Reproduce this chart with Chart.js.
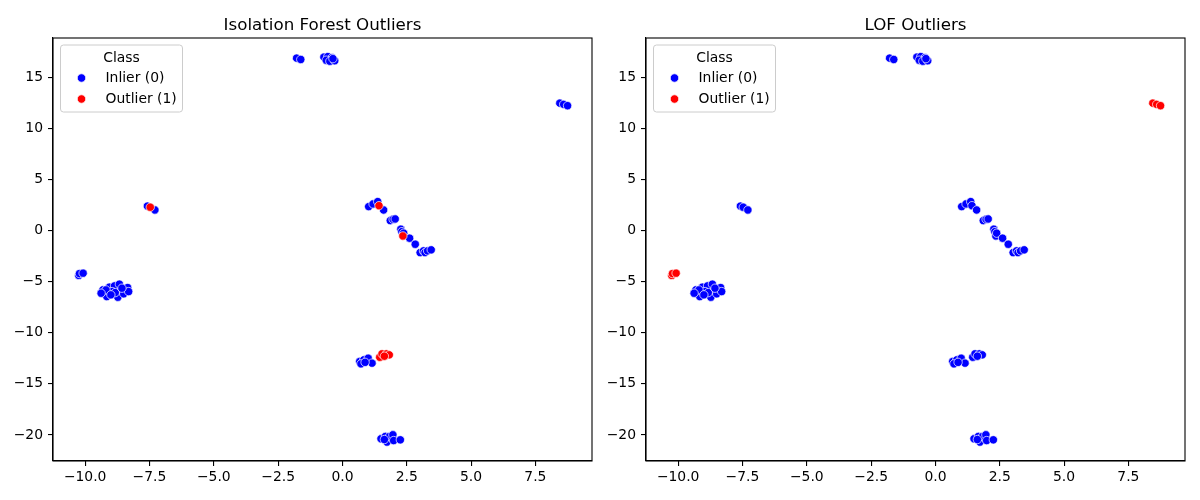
<!DOCTYPE html>
<html><head><meta charset="utf-8">
<script src="https://cdn.jsdelivr.net/npm/chart.js@4.4.0/dist/chart.umd.min.js"></script>
<style>
html,body{margin:0;padding:0;background:#fff;overflow:hidden}
#wrap{position:relative;width:1200px;height:500px;background:#fff}
.c{position:absolute;top:0;width:600px;height:500px}
</style></head><body>
<div id="wrap">
<canvas id="c1" class="c" style="left:0" width="600" height="500"></canvas>
<canvas id="c2" class="c" style="left:600px" width="600" height="500"></canvas>
</div>
<script>
// ---- data ----
const titles = ['Isolation Forest Outliers', 'LOF Outliers'];
const classNames = ['Inlier (0)', 'Outlier (1)'];
const legendTitle = 'Class';
const xTicks = [-10, -7.5, -5, -2.5, 0, 2.5, 5, 7.5];
const yTicks = [-20, -15, -10, -5, 0, 5, 10, 15];

const pointX = [
  -1.78, -1.62,
  -0.72, -0.57, -0.40, -0.63, -0.49, -0.30, -0.37,
  8.45, 8.60, 8.75,
  -7.58, -7.47, -7.29,
  -10.25, -10.22, -10.08,
  -9.31, -9.16, -9.06, -8.86, -8.67, -8.35, -8.73, -8.50, -8.31, -8.95, -8.83, -9.19, -9.38, -8.57, -9.00,
  1.02, 1.19, 1.37, 1.42, 1.60, 1.86, 1.97, 2.05, 2.27, 2.31, 2.35, 2.38, 2.61, 2.83, 3.02, 3.15, 3.21, 3.31, 3.45,
  0.67, 0.83, 1.00, 0.72, 1.15, 0.88,
  1.45, 1.54, 1.71, 1.82, 1.63,
  1.50, 1.67, 1.73, 1.83, 1.96, 1.99, 2.25, 1.63
];
const pointY = [
  16.85, 16.72,
  16.95, 17.00, 16.90, 16.65, 16.55, 16.60, 16.80,
  12.45, 12.33, 12.20,
  2.38, 2.27, 2.00,
  -4.40, -4.22, -4.18,
  -5.82, -6.47, -5.55, -5.43, -5.26, -5.59, -6.53, -6.20, -5.98, -5.98, -6.08, -5.82, -6.14, -5.65, -6.30,
  2.33, 2.59, 2.82, 2.42, 2.00, 0.96, 1.09, 1.12, 0.12, -0.12, -0.54, -0.27, -0.76, -1.35, -2.17, -2.00, -2.17, -2.00, -1.90,
  -12.82, -12.66, -12.50, -13.05, -12.98, -12.90,
  -12.40, -12.07, -12.07, -12.17, -12.30,
  -20.38, -20.15, -20.70, -20.15, -19.99, -20.55, -20.48, -20.45
];
const ifLabel = [
  0, 0,
  0, 0, 0, 0, 0, 0, 0,
  0, 0, 0,
  0, 1, 0,
  0, 0, 0,
  0, 0, 0, 0, 0, 0, 0, 0, 0, 0, 0, 0, 0, 0, 0,
  0, 0, 0, 1, 0, 0, 0, 0, 0, 0, 1, 0, 0, 0, 0, 0, 0, 0, 0,
  0, 0, 0, 0, 0, 0,
  1, 1, 1, 1, 1,
  0, 0, 0, 0, 0, 0, 0, 0
];
const lofLabel = [
  0, 0,
  0, 0, 0, 0, 0, 0, 0,
  1, 1, 1,
  0, 0, 0,
  1, 1, 1,
  0, 0, 0, 0, 0, 0, 0, 0, 0, 0, 0, 0, 0, 0, 0,
  0, 0, 0, 0, 0, 0, 0, 0, 0, 0, 0, 0, 0, 0, 0, 0, 0, 0, 0,
  0, 0, 0, 0, 0, 0,
  0, 0, 0, 0, 0,
  0, 0, 0, 0, 0, 0, 0, 0
];
const classColors = ['#0000ff', '#ff0000'];

// ---- rendering ----
const FONT = 'DejaVu Sans';
const fmt = (v, d) => (v < 0 ? '\u2212' : '') + Math.abs(v).toFixed(d);

const framePlugin = {
  id: 'frameTitleLegend',
  afterDatasetsDraw(chart, args, opts) {
    const ctx = chart.ctx, a = chart.chartArea;
    ctx.save();
    // spines
    ctx.strokeStyle = '#000';
    ctx.lineWidth = 1.1;
    ctx.strokeRect(a.left, a.top, a.right - a.left, a.bottom - a.top);
    // title
    ctx.fillStyle = '#000';
    ctx.font = '16.7px "' + FONT + '"';
    ctx.textAlign = 'center';
    ctx.textBaseline = 'alphabetic';
    ctx.fillText(opts.title, (a.left + a.right) / 2, a.top - 8.5);
    // legend
    const bx = a.left + 7.5, by = a.top + 7, bw = 122, bh = 67;
    ctx.beginPath();
    ctx.roundRect(bx, by, bw, bh, 3);
    ctx.fillStyle = 'rgba(255,255,255,0.8)';
    ctx.fill();
    ctx.strokeStyle = '#cccccc';
    ctx.lineWidth = 1;
    ctx.stroke();
    ctx.fillStyle = '#000';
    ctx.font = '13.9px "' + FONT + '"';
    ctx.textBaseline = 'middle';
    ctx.textAlign = 'center';
    ctx.fillText(legendTitle, bx + bw / 2, by + 13);
    ctx.textAlign = 'left';
    chart.data.datasets.forEach((ds, i) => {
      const cy = by + 33 + i * 21;
      ctx.beginPath();
      ctx.arc(bx + 21, cy, 4.2, 0, Math.PI * 2);
      ctx.fillStyle = ds.backgroundColor;
      ctx.fill();
      ctx.strokeStyle = '#fff';
      ctx.lineWidth = 0.7;
      ctx.stroke();
      ctx.fillStyle = '#000';
      ctx.fillText(ds.label, bx + 45, cy + 0.5);
    });
    ctx.restore();
  }
};

function makeChart(id, title, labels, yWidth, padRight) {
  const datasets = classNames.map((name, k) => ({
    label: name,
    data: pointX.map((x, i) => ({ x: x, y: pointY[i] })).filter((p, i) => labels[i] === k),
    backgroundColor: classColors[k],
    borderColor: '#ffffff',
    borderWidth: 0.7,
    pointRadius: 4.2,
    pointHoverRadius: 4.2,
    order: 1 - k
  }));
  const tickFont = { family: FONT, size: 13.9 };
  return new Chart(document.getElementById(id), {
    type: 'scatter',
    data: { datasets },
    options: {
      responsive: false,
      animation: false,
      events: [],
      layout: { padding: { top: 38, right: padRight, bottom: 0, left: 0 } },
      plugins: {
        legend: { display: false },
        tooltip: { enabled: false },
        title: { display: false },
        frameTitleLegend: { title: title }
      },
      scales: {
        x: {
          type: 'linear', min: -11.25, max: 9.7,
          afterBuildTicks: s => { s.ticks = xTicks.map(v => ({ value: v })); },
          afterFit: s => { s.height = 39; },
          ticks: { callback: v => fmt(v, 1), font: tickFont, color: '#000', padding: 3, maxRotation: 0, autoSkip: false },
          grid: { drawOnChartArea: false, drawTicks: true, tickLength: 5, color: '#000', lineWidth: 1.1 },
          border: { display: true, color: '#000', width: 1.1 }
        },
        y: {
          type: 'linear', min: -22.55, max: 18.82,
          afterBuildTicks: s => { s.ticks = yTicks.map(v => ({ value: v })); },
          afterFit: s => { s.width = yWidth; },
          ticks: { callback: v => fmt(v, 0), font: tickFont, color: '#000', padding: 5, autoSkip: false },
          grid: { drawOnChartArea: false, drawTicks: true, tickLength: 5, color: '#000', lineWidth: 1.1 },
          border: { display: true, color: '#000', width: 1.1 }
        }
      }
    },
    plugins: [framePlugin]
  });
}

makeChart('c1', titles[0], ifLabel, 53, 8);
makeChart('c2', titles[1], lofLabel, 46, 15);
</script>
</body></html>
